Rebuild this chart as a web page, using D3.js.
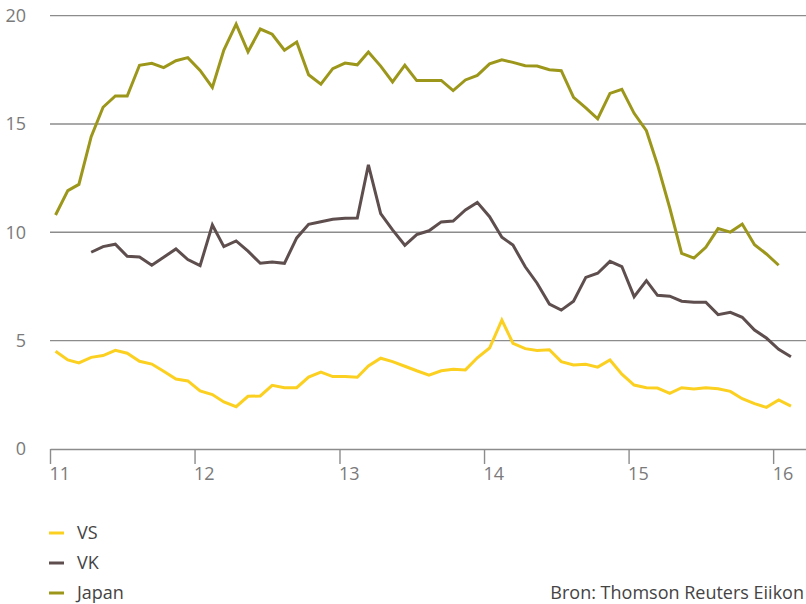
<!DOCTYPE html>
<html>
<head>
<meta charset="utf-8">
<script src="https://cdn.jsdelivr.net/npm/d3@7"></script>
<style>
  body { margin: 0; background: #fff; }
  text { font-family: "Open Sans", "Noto Sans", sans-serif; }
</style>
</head>
<body>
<div id="chart"></div>
<script>
// monthly values, first value in the month given by start (0 = Jan 2011)
var vsStart = 0;
var vsValues = [4.51, 4.11, 3.97, 4.23, 4.31, 4.55, 4.42, 4.05, 3.92, 3.59, 3.23, 3.14,
                2.68, 2.51, 2.17, 1.95, 2.43, 2.45, 2.94, 2.83, 2.83, 3.32, 3.55, 3.34,
                3.34, 3.31, 3.83, 4.19, 4.03, 3.82, 3.61, 3.41, 3.61, 3.68, 3.65, 4.21,
                4.66, 5.95, 4.88, 4.63, 4.55, 4.58, 4.03, 3.88, 3.91, 3.78, 4.11, 3.45,
                2.95, 2.83, 2.81, 2.57, 2.83, 2.77, 2.83, 2.78, 2.66, 2.32, 2.09, 1.92,
                2.26, 1.98];

var vkStart = 3;
var vkValues = [9.08, 9.34, 9.45, 8.89, 8.86, 8.48, 8.85, 9.23, 8.74,
                8.46, 10.34, 9.34, 9.60, 9.13, 8.57, 8.63, 8.57, 9.74, 10.37, 10.49, 10.60,
                10.65, 10.66, 13.11, 10.86, 10.11, 9.40, 9.89, 10.07, 10.48, 10.52, 11.03, 11.38,
                10.72, 9.77, 9.41, 8.41, 7.65, 6.69, 6.41, 6.82, 7.92, 8.11, 8.66, 8.42,
                7.03, 7.77, 7.09, 7.05, 6.82, 6.77, 6.77, 6.20, 6.31, 6.08, 5.49, 5.12,
                4.60, 4.26];

var japanStart = 0;
var japanValues = [10.80, 11.92, 12.21, 14.41, 15.77, 16.29, 16.29, 17.71, 17.80, 17.60, 17.92, 18.06,
                   17.47, 16.69, 18.41, 19.61, 18.33, 19.38, 19.14, 18.40, 18.78, 17.27, 16.84, 17.55,
                   17.81, 17.73, 18.32, 17.67, 16.94, 17.71, 17.00, 17.01, 17.01, 16.54, 17.03, 17.24,
                   17.77, 17.96, 17.84, 17.69, 17.67, 17.50, 17.46, 16.23, 15.74, 15.24, 16.41, 16.60,
                   15.49, 14.69, 13.12, 11.12, 9.03, 8.81, 9.31, 10.17, 10.01, 10.38, 9.43, 9.00,
                   8.48];

var seriesNames = ["VS", "VK", "Japan"];
var seriesColors = ["#fcd020", "#5e4e4e", "#9c971b"];
var yTicks = [0, 5, 10, 15, 20];
var source = "Bron: Thomson Reuters Eiikon";

var width = 806, height = 604;
var plotLeft = 50, plotRight = 806, plotTop = 15.6, plotBottom = 449;

var svg = d3.select("#chart").append("svg")
    .attr("width", width)
    .attr("height", height);

var x = d3.scaleTime()
    .domain([new Date(2011, 0, 1), new Date(2016, 2, 24)])
    .range([plotLeft, plotRight]);
var y = d3.scaleLinear().domain([0, 20]).range([plotBottom, plotTop]);

function toPoints(start, values) {
    return values.map(function(v, i){ return { date: new Date(2011, start + i, 15), value: v }; });
}
var series = [
    toPoints(vsStart, vsValues),
    toPoints(vkStart, vkValues),
    toPoints(japanStart, japanValues)
];

// grid lines
svg.append("g").selectAll("line")
    .data(yTicks.filter(function(d){ return d > 0; }))
    .enter().append("line")
    .attr("x1", plotLeft).attr("x2", plotRight)
    .attr("y1", function(d){ return y(d); })
    .attr("y2", function(d){ return y(d); })
    .attr("stroke", "#8c8c8c")
    .attr("stroke-width", 1.4);

// y labels
svg.append("g").selectAll("text")
    .data(yTicks)
    .enter().append("text")
    .attr("x", 26)
    .attr("y", function(d){ return y(d); })
    .attr("dy", "0.36em")
    .attr("text-anchor", "end")
    .attr("fill", "#7a7a7a")
    .attr("font-size", 18)
    .text(function(d){ return d; });

// x axis
var xAxis = d3.axisBottom(x)
    .ticks(d3.timeYear.every(1))
    .tickFormat(d3.timeFormat("%y"))
    .tickSize(15)
    .tickSizeOuter(0);
var gx = svg.append("g")
    .attr("transform", "translate(0," + plotBottom + ")")
    .call(xAxis);
gx.select(".domain").attr("stroke", "#8c8c8c").attr("stroke-width", 1.4);
gx.selectAll(".tick line").attr("stroke", "#8c8c8c").attr("stroke-width", 1.4);
gx.selectAll(".tick text")
    .attr("text-anchor", "start")
    .attr("x", -1)
    .attr("fill", "#7a7a7a")
    .attr("font-size", 18)
    .attr("font-family", null);

// lines
var line = d3.line()
    .x(function(d){ return x(d.date); })
    .y(function(d){ return y(d.value); });

svg.append("g").selectAll("path")
    .data(series)
    .enter().append("path")
    .attr("d", line)
    .attr("fill", "none")
    .attr("stroke", function(d, i){ return seriesColors[i]; })
    .attr("stroke-width", 3)
    .attr("stroke-linejoin", "miter");

// legend
var legend = svg.append("g").selectAll("g")
    .data(seriesNames)
    .enter().append("g")
    .attr("transform", function(d, i){ return "translate(49," + (533 + i * 30) + ")"; });
legend.append("line")
    .attr("x1", 0).attr("x2", 15)
    .attr("stroke", function(d, i){ return seriesColors[i]; })
    .attr("stroke-width", 3);
legend.append("text")
    .attr("x", 28)
    .attr("dy", "0.36em")
    .attr("fill", "#444")
    .attr("font-size", 18)
    .text(function(d){ return d; });

svg.append("text")
    .attr("x", 804)
    .attr("y", 593)
    .attr("dy", "0.36em")
    .attr("text-anchor", "end")
    .attr("fill", "#444")
    .attr("font-size", 18)
    .text(source);
</script>
</body>
</html>
